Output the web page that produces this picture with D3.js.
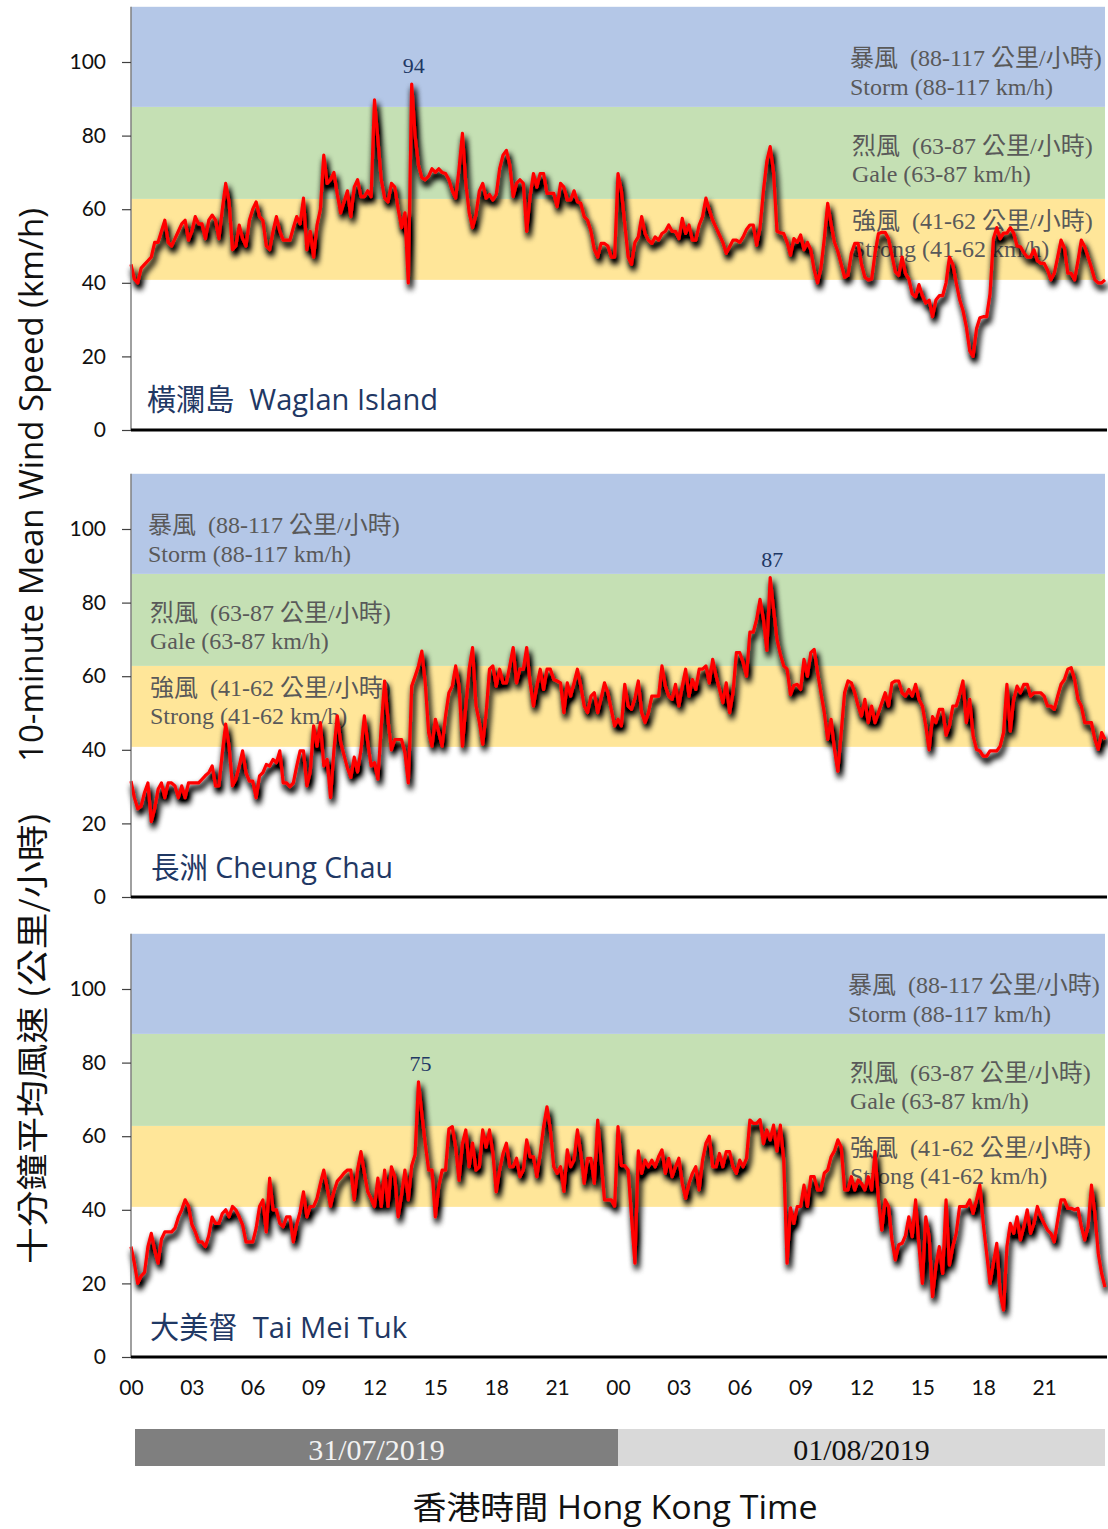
<!DOCTYPE html>
<html><head><meta charset="utf-8">
<script src="https://cdn.jsdelivr.net/npm/d3@7"></script>
<style>body{margin:0;background:#fff}</style>
</head><body>
<svg id="c" width="1108" height="1529"></svg>
<script>
// ---------- data ----------
const hourTicks = ["00","03","06","09","12","15","18","21","00","03","06","09","12","15","18","21"];
const yTicks = [0, 20, 40, 60, 80, 100];
const bandBreaks = [0, 40.8, 62.8, 87.8, 115];
const bandColors = ["#ffffff", "#ffe699", "#c5e0b4", "#b4c7e7"];
const stepMinutes = 10;
const dates = ["31/07/2019", "01/08/2019"];
const stationNames = ["橫瀾島  Waglan Island", "長洲 Cheung Chau", "大美督  Tai Mei Tuk"];
const peakValues = [94, 87, 75];
const bandLabelsZh = ["暴風  (88-117 公里/小時)", "烈風  (63-87 公里/小時)", "強風  (41-62 公里/小時)"];
const bandLabelsEn = ["Storm (88-117 km/h)", "Gale (63-87 km/h)", "Strong (41-62 km/h)"];

// 10-minute mean wind speed (km/h), from 00:00 31/07/2019, every 10 minutes
const waglan = [
45,41,40,44,45,46,47,51,51,54,
57,51,50,52,54,56,57,51.6,54,58,
56,56,52,57,58.4,57,52,60,67,62,
49,50,55.7,52,50,57,60,62,58,57,
50,49,54,58,54,51.6,51.6,51.6,55,58,
56,63,49,54,47,55.7,60,74.7,67,68,
70,64,59,62,65,58,66,68,63.4,63.4,
65,63.4,89.7,79,68,63,62,67,66,60,
55,59,40,94,80,72,68.5,68,69,71,
70,71,70,69.7,68,65,63,71,80.6,67,
59,55,58.5,65,67,63,64,62.5,64,71,
74.7,76,72,63.4,67,68,67,54,63.4,69.7,
66,69.7,69.7,64.3,64.3,64.3,60.7,67,66,62.5,
62.5,65,62,61.6,58,57,54,49,47,50.7,
50.7,50,47,47,69.7,
65,56,47,45,51,52.5,58,53.4,51.6,50.7,
52.5,51.6,53.4,54,55.7,54,54,52,57.5,53.4,
55.7,51.6,51.6,55.7,58,63,59.8,57,55,53,
51,48,49.8,51.6,51.6,51,52.5,54.5,55.7,55.7,
50.2,55,65,73,77,70,54,53.6,53.4,51,
47.5,52,51,53,49,51,49,43.5,40,44,
52,61.6,56,51,48.5,45,41.5,42,48,50.7,
50.7,45,41.5,40.8,41,48,53.4,53.7,53.7,52,
47.5,43,42,47,42.5,41,37,36.2,39.5,36.5,
34.5,35.3,30.8,35.3,36.5,36.5,40,47,45,40,
35.5,32.5,28,21.5,20,27.5,30.5,30.8,30.8,37,
52,55,52,53.5,53.5,55,53.5,50,49.8,48.2,
47,47,49,46,45.3,45.3,43.5,40.8,42.6,47,
51.6,49.5,42.6,42.6,40.8,46,51.6,49.8,47,44,
40.8,40,40,40.8
];
const cheungChau = [
31.5,27,24,24.7,28.4,31,20.5,24,29.3,31,
27,31,31,30.2,27,30.2,27,31,31,31,
31,32,33,33.8,35.6,30.2,30.2,39.2,47,41,
30.2,32,35.6,39.7,33.8,31.5,31.5,27,32.9,33.8,
36,35.6,37.4,36.5,39.7,31,31,30,31,35.6,
39.7,39.7,30.2,34,46.5,41,47.4,35.6,37.4,27,
40,49.2,42,38.5,35,32.5,38,34,40,49.2,
42,35.6,36.5,32,46.5,58.7,48,40,42.8,42.8,
42.8,39.2,31,57.3,60,62.8,66.8,58.2,44.7,41,
48.3,44.7,41,49.2,55.5,57.3,62.8,57.3,41,51.9,
62,67.8,52,47.5,41.5,50,61.9,62.8,57.3,61.9,
58.2,58.2,62.8,67.8,58.2,61.9,61.9,67.8,58.2,51.9,
57.3,61.9,56.4,61.9,61.9,59.1,58.7,58.2,50.1,58.2,
54.6,58.2,61.9,57.3,51.9,50.1,54.6,55.5,50.1,54,
58.2,55.5,51,46.5,48.3,
46.5,57.8,51.9,51,54,58.7,50.1,47.4,50.1,54.6,
54.6,54.6,62.8,57.3,54.6,53.7,57.8,51.9,57.3,61.9,
54.6,59.1,56.4,61.9,61.9,62.8,58.2,64.6,60,56.4,
52.8,58.2,50.1,55.5,66.4,66.4,63.7,60,72,72,
75.5,80.9,75.5,67,86.8,78.2,70,66,62.8,61.9,
55,57.5,57.8,56.4,64.6,60,66.4,67.3,61,55.5,
50.1,42.8,48.3,40.1,34.2,44.7,55.5,58.7,58.2,55.5,
51.9,49.2,53.7,47.4,51.9,47.4,50.1,52.8,55.5,51.9,
58.2,58.7,58.7,55.5,54.6,56.4,54.6,57.8,53.7,51.9,
46.5,40,49,47.4,51,51,44,46.5,51.9,51.9,
55,58.7,47.4,53.7,43.8,40.1,39.7,38.3,38.3,39.7,
39.7,39.7,41,44.7,57.8,45.1,53.7,57.3,55.5,57.8,
57.8,54.6,55.5,55.5,55.5,54.6,51.9,51.9,51,54.6,
57.8,59.1,61.9,62.3,59.1,53.7,51.9,47.4,47.4,47.4,
42.8,40.1,44.7,42.8
];
const taiMeiTuk = [
30,25.5,20,22,23,30,33.6,29,25.5,32,
34,34,34,35,38,40,42.7,41,36,34,
31.3,31.3,30,33,38,36.3,36.3,39,40,38.1,
40.9,40,38.1,35.9,31.3,31.3,31.3,35,40.9,42.7,
34,48.6,40,40,36.3,35.4,38.1,38.1,31.3,36,
39.5,44.9,38.1,40.9,40.9,43.1,47.2,50.8,46,41,
45,47.8,48.8,50,50.8,50.8,42.7,51,55.8,50,
44.9,43,40.9,48.6,40.9,50.8,40.9,51.7,49,38.1,
44,50.8,42.7,52,55,74.8,66,58,50.8,50.8,
38.1,46.3,50.8,50.8,62,62.6,57,48,58,61.7,
51.7,58.1,50.8,51.7,61.7,57,61.7,55.3,44.9,50.8,
55.3,58.1,51.7,51.7,54,49,50.8,59,54.4,54.4,
49,55.3,62.6,68,61.7,51.7,49.9,51.7,45,56.3,
51.7,53.5,61.7,55.3,47.2,54,54,47.2,64.4,53.5,
42.7,42.7,42.7,41,62.6,
52,52,50.8,38,25.5,56,49.9,53.5,51.7,53.5,
51.7,54.4,56.3,49.9,54,49,51.7,54,47.2,43.1,
47.2,49.9,51.7,45.4,53.5,58.1,60,51.7,51.7,55.3,
51.7,55.8,55.8,51.7,49.9,53.5,51.7,54,64.4,63.5,
63.5,64.5,58,61.7,59,63,56,63,53.5,25.5,
40.5,36.3,40.9,40.9,46.7,40.9,49,49,45.4,45.4,
50,50.8,54.4,56,59,57,45.4,45.4,49,45.4,
48.1,47.2,45.4,49,45.4,55.8,42.7,34.5,42.7,40.9,
31.8,26.4,30.5,30.9,33,38.1,32.7,42.7,30,20,
38.1,32.7,16.4,24.5,30,22.7,42.7,25,30,33.6,
40.9,40.9,40.9,42.7,39,42.7,46.7,36.3,28.2,20,
25.5,30.9,17.3,12.8,30,36.3,33.6,38.1,31.8,35.4,
40,33.6,36.3,40.9,38.1,36.3,34.5,33.6,31.3,37.2,
42.7,42.7,40.4,40.4,40,40.4,35.4,31.8,35.4,46.7,
39,28.2,22.7,19
];
const seriesList = [waglan, cheungChau, taiMeiTuk];

// ---------- layout ----------
const svg = d3.select("#c");
const panelBottoms = [430, 897, 1357];
const panelHeight = 423.2;
const x = d3.scaleLinear().domain([0, 48 * 60]).range([131, 1105]);
const tickFont = "Lato, 'Open Sans', sans-serif";
const serifFont = "'Liberation Serif', 'Noto Sans CJK TC', serif";
const navy = "#1f3864";

const bandLabelX = [850, 148, 848];
const bandLabelOffsets = [[364, 335], [276, 248], [201, 173]];

const defs = svg.append("defs");
const f = defs.append("filter").attr("id", "shadow")
  .attr("x", "-5%").attr("y", "-10%").attr("width", "110%").attr("height", "130%");
f.append("feGaussianBlur").attr("in", "SourceAlpha").attr("stdDeviation", 3.2).attr("result", "b");
f.append("feOffset").attr("in", "b").attr("dx", 2).attr("dy", 5).attr("result", "o");
f.append("feComponentTransfer").attr("in", "o").attr("result", "s")
  .append("feFuncA").attr("type", "linear").attr("slope", 1.7);
const m = f.append("feMerge");
m.append("feMergeNode").attr("in", "s");
m.append("feMergeNode").attr("in", "SourceGraphic");

seriesList.forEach((data, p) => {
  const bottom = panelBottoms[p];
  const y = d3.scaleLinear().domain([0, 115]).range([bottom, bottom - panelHeight]);
  const g = svg.append("g");

  for (let b = 0; b < bandColors.length; b++) {
    g.append("rect")
      .attr("x", x(0)).attr("width", x(48 * 60) - x(0))
      .attr("y", y(bandBreaks[b + 1])).attr("height", y(bandBreaks[b]) - y(bandBreaks[b + 1]))
      .attr("fill", bandColors[b]);
  }

  for (let k = 0; k < 3; k++) {
    g.append("text").attr("x", bandLabelX[p] + (k > 0 ? 2 : 0)).attr("y", bottom - bandLabelOffsets[k][0])
      .attr("font-family", serifFont).attr("font-size", 24).attr("fill", "#595959")
      .attr("xml:space", "preserve").text(bandLabelsZh[k]);
    g.append("text").attr("x", bandLabelX[p] + (k > 0 ? 2 : 0)).attr("y", bottom - bandLabelOffsets[k][1])
      .attr("font-family", serifFont).attr("font-size", 24).attr("fill", "#595959")
      .text(bandLabelsEn[k]);
  }

  const stationX = [147, 151, 150][p];
  const stationW = [291, 242, 257][p];
  const stationY = [410, 878, 1338][p];
  g.append("text").attr("x", stationX).attr("y", stationY)
    .attr("font-family", "'Open Sans', 'Noto Sans CJK TC', sans-serif").attr("font-size", 30)
    .attr("fill", navy).attr("xml:space", "preserve")
    .attr("textLength", stationW).attr("lengthAdjust", "spacingAndGlyphs")
    .text(stationNames[p]);

  const peakIdx = data.indexOf(d3.max(data));
  g.append("text").attr("x", x(peakIdx * stepMinutes) + 2).attr("y", y(data[peakIdx]) - 11)
    .attr("text-anchor", "middle").attr("font-family", serifFont).attr("font-size", 22)
    .attr("fill", navy).text(peakValues[p]);

  const line = d3.line().x((d, i) => x(i * stepMinutes)).y(d => y(d)).curve(d3.curveLinear);
  g.append("path").datum(data).attr("d", line)
    .attr("fill", "none").attr("stroke", "#ff0000").attr("stroke-width", 3.2)
    .attr("stroke-linejoin", "round").attr("filter", "url(#shadow)");

  const yAxis = d3.axisLeft(y).tickValues(yTicks).tickSize(9).tickPadding(16);
  const ya = g.append("g").attr("transform", `translate(${x(0)},0)`).call(yAxis);
  ya.select(".domain").attr("d", `M0,${y(115)}V${bottom}`).attr("stroke", "#808080").attr("stroke-width", 1.5);
  ya.selectAll(".tick line").attr("stroke", "#404040").attr("stroke-width", 1.2);
  ya.selectAll(".tick text").attr("font-family", tickFont).attr("font-size", 21).attr("fill", "#111");

  g.append("line").attr("x1", x(0)).attr("x2", 1107).attr("y1", bottom).attr("y2", bottom)
    .attr("stroke", "#000").attr("stroke-width", 3);
});

const xTickMinutes = hourTicks.map((h, i) => i * 180);
const xa = svg.append("g").attr("transform", `translate(0,${panelBottoms[2]})`)
  .call(d3.axisBottom(x).tickValues(xTickMinutes).tickSize(0).tickPadding(23)
    .tickFormat((d, i) => hourTicks[i]));
xa.select(".domain").remove();
xa.selectAll(".tick text").attr("font-family", tickFont).attr("font-size", 21).attr("fill", "#111");

const dateBars = [[135, x(24 * 60), "#7f7f7f", "#f2f2f2"], [x(24 * 60), 1105, "#d9d9d9", "#111"]];
dateBars.forEach((b, i) => {
  svg.append("rect").attr("x", b[0]).attr("y", 1429).attr("width", b[1] - b[0]).attr("height", 37).attr("fill", b[2]);
  svg.append("text").attr("x", (b[0] + b[1]) / 2).attr("y", 1460).attr("text-anchor", "middle")
    .attr("font-family", serifFont).attr("font-size", 30).attr("fill", b[3]).text(dates[i]);
});

svg.append("text").attr("x", 615).attr("y", 1519).attr("text-anchor", "middle")
  .attr("font-family", "'Open Sans', 'Noto Sans CJK TC', sans-serif").attr("font-size", 32).attr("fill", "#111")
  .attr("textLength", 405).attr("lengthAdjust", "spacingAndGlyphs")
  .text("香港時間 Hong Kong Time");
svg.append("text").attr("transform", "translate(30,485) rotate(-90)").attr("text-anchor", "middle")
  .attr("dominant-baseline", "central")
  .attr("font-family", "'Open Sans', sans-serif").attr("font-size", 32).attr("fill", "#111")
  .attr("textLength", 554).attr("lengthAdjust", "spacingAndGlyphs")
  .text("10-minute Mean Wind Speed (km/h)");
svg.append("text").attr("transform", "translate(30,1038) rotate(-90)").attr("text-anchor", "middle")
  .attr("dominant-baseline", "central")
  .attr("font-family", "'Noto Sans CJK TC', sans-serif").attr("font-size", 32).attr("fill", "#111")
  .attr("textLength", 452).attr("lengthAdjust", "spacingAndGlyphs")
  .text("十分鐘平均風速 (公里/小時)");
</script>
</body></html>
